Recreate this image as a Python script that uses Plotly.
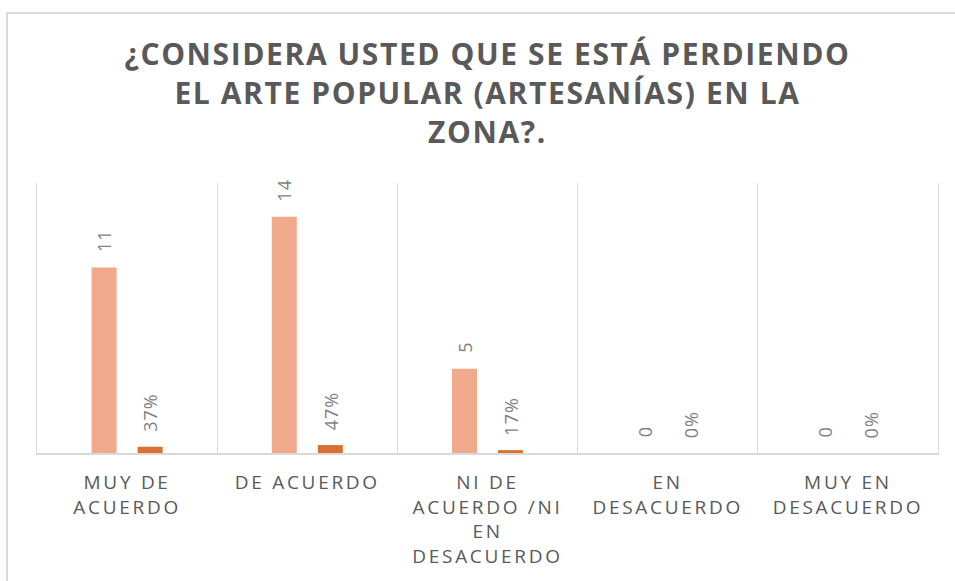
import plotly.graph_objects as go

# ---- data ----
categories = [
    "MUY DE<br>ACUERDO",
    "DE ACUERDO",
    "NI DE<br>ACUERDO /NI<br>EN<br>DESACUERDO",
    "EN<br>DESACUERDO",
    "MUY EN<br>DESACUERDO",
]
counts = [11, 14, 5, 0, 0]
percents = [0.37, 0.47, 0.17, 0.0, 0.0]
count_labels = ["11", "14", "5", "0", "0"]
percent_labels = ["37%", "47%", "17%", "0%", "0%"]
title_text = "¿CONSIDERA USTED QUE SE ESTÁ PERDIENDO<br>EL ARTE POPULAR (ARTESANÍAS) EN LA<br>ZONA?."

FONT = "Open Sans"
LIGHT = "#F1A98B"
DARK = "#D8712D"
LABEL_COLOR = "#7f7f7f"
TEXT_COLOR = "#595959"
GRID = "#d9d9d9"

fig = go.Figure()
fig.add_bar(x=categories, y=counts, marker_color=LIGHT, marker_line_width=0, name="count")
fig.add_bar(x=categories, y=percents, marker_color=DARK, marker_line_width=0, name="pct")

annotations = []
for cat, v, t in zip(categories, counts, count_labels):
    annotations.append(dict(x=cat, y=v, xref="x", yref="y", text=t, showarrow=False,
                            textangle=-90, xanchor="center", yanchor="bottom",
                            xshift=-23, yshift=14,
                            font=dict(family=FONT, size=18, color=LABEL_COLOR)))
for cat, v, t in zip(categories, percents, percent_labels):
    annotations.append(dict(x=cat, y=v, xref="x", yref="y", text=t, showarrow=False,
                            textangle=-90, xanchor="center", yanchor="bottom",
                            xshift=23, yshift=14,
                            font=dict(family=FONT, size=18, color=LABEL_COLOR)))

fig.update_layout(
    width=955, height=581,
    margin=dict(l=37, r=17, t=183, b=128),
    paper_bgcolor="white", plot_bgcolor="white",
    showlegend=False,
    barmode="group", bargap=0.489, bargroupgap=0.457,
    title=dict(text=title_text, x=0.5, xref="paper", xanchor="center",
               y=1 - 65 / 581, yanchor="top",
               font=dict(family=FONT, size=30, color=TEXT_COLOR, weight="bold")),
    xaxis=dict(type="category", tickson="boundaries", showgrid=True, gridcolor=GRID,
               gridwidth=1, ticks="", showline=True, linecolor=GRID, linewidth=2,
               tickfont=dict(family=FONT, size=19, color=TEXT_COLOR),
               ticklabelstandoff=11, zeroline=False, fixedrange=True),
    yaxis=dict(range=[0, 16], showgrid=False, zeroline=False, showticklabels=False,
               showline=True, mirror=True, linecolor=GRID, linewidth=1,
               ticks="", fixedrange=True),
    annotations=annotations,
    shapes=[dict(type="rect", xref="paper", yref="paper",
                 x0=(7 - 37) / 901, x1=1.2, y0=-1.0, y1=(453 - 13) / 270,
                 line=dict(color=GRID, width=2), fillcolor="rgba(0,0,0,0)", layer="below")],
)

post = """
document.body.style.margin = '0';
var s = document.createElement('style');
s.textContent = 'body{margin:0} .gtitle{letter-spacing:1.6px} .xtick text{letter-spacing:2.7px} .annotation-text{letter-spacing:1px}';
document.head.appendChild(s);
"""
fig.write_html("out.html", post_script=post, config={"displayModeBar": False})
